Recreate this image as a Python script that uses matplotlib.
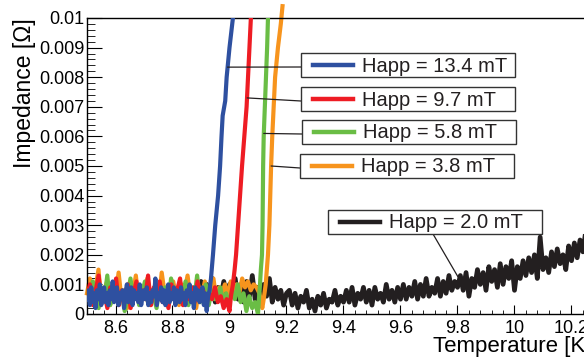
import numpy as np
import matplotlib
matplotlib.use('Agg')
import matplotlib.pyplot as plt
from matplotlib.lines import Line2D
from matplotlib.patches import Rectangle

plt.rcParams['font.family'] = ['Liberation Sans', 'DejaVu Sans']

# colores de cada campo aplicado
c_blue = '#2e50a0'
c_red = '#ee1c24'
c_green = '#6abd45'
c_orange = '#f7941d'
c_black = '#231f20'

labels = ['Happ = 13.4 mT', 'Happ = 9.7 mT', 'Happ = 5.8 mT', 'Happ = 3.8 mT', 'Happ = 2.0 mT']

# ruido en zona superconductora (unidades de 1e-4 Ohm)
blue_noise = [5, 8, 3, 9, 4, 7, 2, 8, 5, 10, 3, 6, 9, 4, 7, 3, 8, 5, 11, 4, 6, 9, 3, 7, 5, 8, 2, 7,
              10, 4, 6, 9, 3, 8, 5, 7, 4, 10, 3, 6, 8, 5, 9, 3, 7, 4, 8, 6, 12, 3, 7, 5, 9, 4, 8, 3,
              6, 10, 4, 7, 5, 9, 3, 8, 6, 4, 9, 5, 7, 3, 8, 6, 10, 4, 7, 2, 9, 5, 8, 4, 6, 9, 3, 7,
              1, 6, 8]
red_noise = [6, 10, 3, 8, 13, 4, 7, 2, 9, 5, 12, 3, 8, 6, 10, 2, 7, 11, 4, 8, 5, 13, 3, 9, 6, 11,
             4, 7, 2, 10, 5, 8, 12, 3, 7, 5, 9, 4, 11, 6, 8, 3, 7, 5, 9, 4, 6, 2, 5, 1]
green_noise = [8, 4, 11, 6, 2, 9, 5, 13, 3, 7, 10, 4, 8, 1, 6, 12, 5, 9, 3, 7, 11, 4, 8, 6, 2, 10,
               5, 9, 3, 12, 7, 4, 8, 6, 11, 3, 9, 5, 13, 4, 7, 10, 3, 8, 5, 6, 9, 4, 7, 3, 8, 5,
               10, 4, 7, 1, 6, 2, 4, 0]
orange_noise = [7, 12, 5, 9, 15, 4, 8, 11, 3, 10, 6, 14, 5, 8, 2, 11, 7, 13, 4, 9, 6, 12, 3, 8,
                10, 5, 14, 7, 4, 9, 11, 6, 3, 10, 8, 13, 5, 7, 2, 9, 6, 11, 4, 8, 12, 5, 9, 7, 10,
                6, 11, 8, 10, 7, 12, 9, 11, 8, 10, 9, 7, 2]
black_z = [9, 6, 11, 5, 10, 7, 12, 4, 9, 6, 11, 5, 10,
           7, 12, 5, 10, 4, 11, 6, 13, 5, 9, 3, 10, 6, 12, 4, 9, 5, 8, 3, 7,
           8, 3, 7, 2, 6, 4, 8, 2, 5, 1, 6, 3, 7, 2, 5, 4, 8, 3, 6, 4,
           8, 4, 9, 3, 7, 5, 9, 4, 8, 3, 9, 5, 7, 4, 10, 5, 8, 4, 9, 5,
           10, 5, 9, 6, 11, 5, 10, 6, 12, 6, 9, 7, 12, 6, 11, 7, 13, 8, 11, 9,
           13, 8, 14, 6, 12, 9, 15, 10, 14, 8, 16, 11, 15, 9, 17, 10, 16, 12, 18, 8,
           16, 12, 18, 13, 19, 14, 20, 12, 26, 15, 19, 14, 21, 16, 22, 17, 20, 15, 23, 18,
           24, 19, 25, 21, 28, 22, 34, 25, 30, 27]

# transiciones (T en K, Z en 1e-4 Ohm)
blue_tr_t = [8.935, 8.942, 8.95, 8.96, 8.967, 8.972, 8.976, 8.985, 8.99, 9.0, 9.012, 9.016]
blue_tr_z = [12, 20, 30, 40, 50, 60, 67, 72, 80, 90, 100, 106]
red_tr_t = [9.005, 9.012, 9.018, 9.023, 9.03, 9.037, 9.044, 9.052, 9.06, 9.065, 9.07, 9.075, 9.078]
red_tr_z = [6, 10, 15, 20, 30, 40, 50, 60, 70, 80, 90, 100, 106]
green_tr_t = [9.104, 9.107, 9.11, 9.114, 9.116, 9.117, 9.118, 9.12, 9.124, 9.128, 9.132, 9.135, 9.137]
green_tr_z = [6, 10, 15, 20, 30, 40, 50, 60, 70, 80, 90, 100, 106]
orange_tr_t = [9.12, 9.127, 9.131, 9.135, 9.14, 9.143, 9.146, 9.15, 9.155, 9.16, 9.17, 9.18, 9.186]
orange_tr_z = [5, 10, 15, 20, 30, 40, 50, 60, 70, 80, 90, 98, 104]

def serie(t0, t1, noise, tr_t, tr_z):
    t = np.concatenate([np.linspace(t0, t1, len(noise)), tr_t])
    z = np.concatenate([noise, tr_z]) * 1e-4
    return t, z

fig = plt.figure(figsize=(5.84, 3.57), dpi=100)
ax = fig.add_axes([87/584, 43/357, 513/584, 296/357])

lw = 3.0
tb = np.linspace(8.88, 10.30, len(black_z))
ax.plot(tb, np.array(black_z) * 1e-4, color=c_black, lw=3.4, zorder=1)
t, z = serie(8.5, 9.115, orange_noise, orange_tr_t, orange_tr_z)
ax.plot(t, z, color=c_orange, lw=lw, zorder=2, clip_on=False)
t, z = serie(8.5, 9.1, green_noise, green_tr_t, green_tr_z)
ax.plot(t, z, color=c_green, lw=lw, zorder=3)
t, z = serie(8.5, 9.0, red_noise, red_tr_t, red_tr_z)
ax.plot(t, z, color=c_red, lw=lw, zorder=4)
t, z = serie(8.5, 8.93, blue_noise, blue_tr_t, blue_tr_z)
ax.plot(t, z, color=c_blue, lw=lw, zorder=5)

ax.set_xlim(8.5, 10.3)
ax.set_ylim(0, 0.01)
ax.set_xticks(np.arange(8.6, 10.31, 0.2))
ax.set_xticks(np.arange(8.52, 10.3, 0.04), minor=True)
ax.set_yticks(np.arange(0, 0.01001, 0.001))
ax.set_yticks(np.arange(0, 0.01001, 0.0002), minor=True)
ax.xaxis.set_major_formatter(plt.FuncFormatter(lambda v, p: '%g' % round(v, 3)))
ax.yaxis.set_major_formatter(plt.FuncFormatter(lambda v, p: '%g' % round(v, 4)))
ax.tick_params(direction='in', which='both', top=False, right=False, labelsize=13)
ax.tick_params(axis='y', which='major', length=11, pad=2)
ax.tick_params(axis='y', which='minor', length=5.5)
ax.tick_params(axis='x', which='major', length=6.5, pad=4)
ax.tick_params(axis='x', which='minor', length=3.2)
for s in ax.spines.values():
    s.set_linewidth(1.0)

ax.text(-0.122, 1.0, 'Impedance [Ω]', transform=ax.transAxes, rotation=90,
        ha='center', va='top', fontsize=16.5)
ax.text(0.984, -0.075, 'Temperature [K]', transform=ax.transAxes,
        ha='right', va='top', fontsize=16)

# cajas de etiquetas (pixeles desde arriba-izquierda) y punto de la curva
cajas = [(301, 53, c_blue, (8.993, 0.00834)),
         (301, 87, c_red, (9.062, 0.0073)),
         (302, 120, c_green, (9.12, 0.0061)),
         (300, 154, c_orange, (9.146, 0.005)),
         (328, 210, c_black, (9.802, 0.00125))]
W, H = 214, 24
for (x0, y0, col, pt), lab in zip(cajas, labels):
    fx = lambda x: x / 584
    fy = lambda y: 1 - y / 357
    fig.add_artist(Rectangle((fx(x0), fy(y0 + H)), W / 584, H / 357, transform=fig.transFigure,
                             facecolor='white', edgecolor='#333333', lw=1.0, zorder=10))
    fig.add_artist(Line2D([fx(x0 + 12), fx(x0 + 52)], [fy(y0 + H / 2)] * 2,
                          transform=fig.transFigure, color=col, lw=3.2, zorder=11))
    fig.text(fx(x0 + 61), fy(y0 + H / 2 + 1), lab, ha='left', va='center',
             fontsize=14.5, color='#231f20', zorder=12)
    if col == c_black:
        start = (fx(x0 + 105), fy(y0 + H))
    else:
        start = (fx(x0), fy(y0 + H / 2 + 2))
    ax.annotate('', xy=pt, xycoords='data', xytext=start, textcoords='figure fraction',
                arrowprops=dict(arrowstyle='-', color='#231f20', lw=0.9, shrinkA=0, shrinkB=0),
                zorder=9)

fig.savefig('out.png', dpi=100)
